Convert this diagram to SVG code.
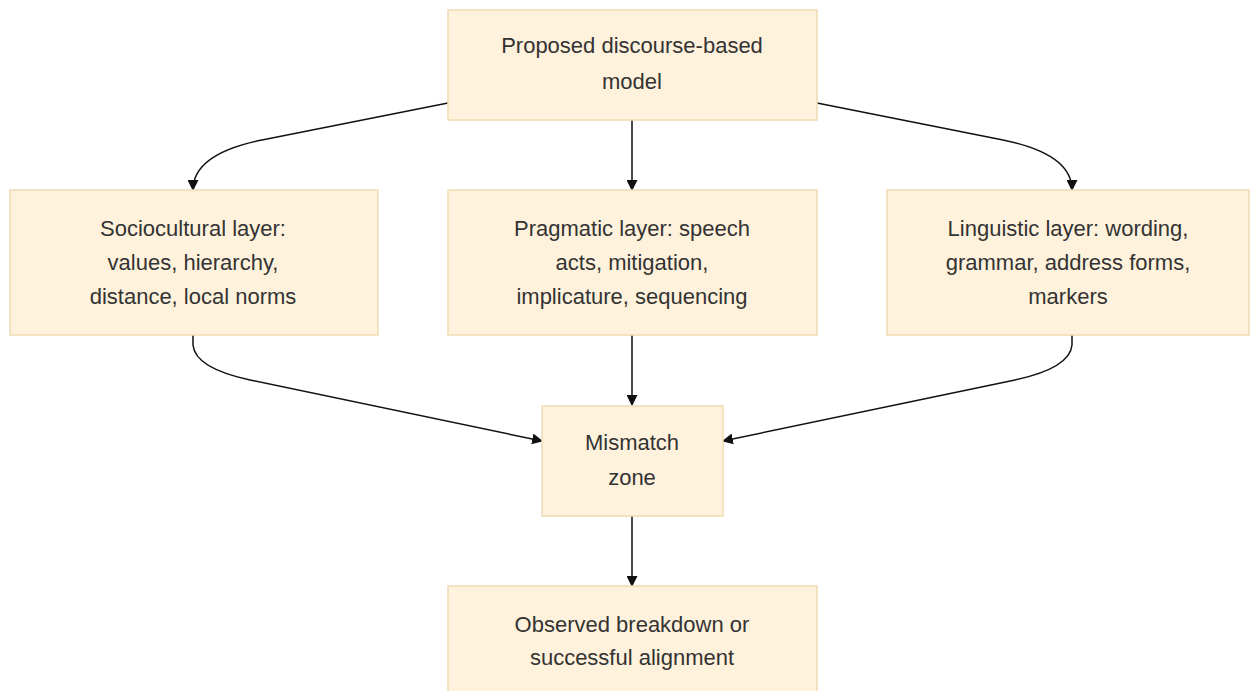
<svg xmlns="http://www.w3.org/2000/svg" width="1251" height="691" viewBox="0 0 1251 691">
<style>
.node rect{fill:#fff2dc;stroke:#f0dcb4;stroke-width:1.5}
.node text{font-family:"Liberation Sans",Arial,sans-serif;font-size:22px;fill:#333;text-anchor:middle}
.edge{fill:none;stroke:#111;stroke-width:1.5;marker-end:url(#arr)}
</style>
<defs>
<marker id="arr" viewBox="0 0 10 10" refX="9" refY="5" markerWidth="11" markerHeight="11" markerUnits="userSpaceOnUse" orient="auto">
<path d="M0,0 L10,5 L0,10 z" fill="#111"/>
</marker>
</defs>
<rect width="1251" height="691" fill="#fff"/>
<g id="connectors">
<path class="edge" d="M448,103 L262,140 Q193,154 193,190"/>
<path class="edge" d="M632,120 L632,190"/>
<path class="edge" d="M817,103 L1003,140 Q1072,154 1072,190"/>
<path class="edge" d="M193,335 L193,345 Q195,368 250,380 L542,441"/>
<path class="edge" d="M632,335 L632,405"/>
<path class="edge" d="M1072,335 L1072,345 Q1070,368 1015,380 L723,441"/>
<path class="edge" d="M632,516 L632,586"/>
</g>
<g id="n1" class="node"><rect x="448" y="10" width="369" height="110"/>
<text x="632" y="53">Proposed discourse-based</text><text x="632" y="89">model</text></g>
<g id="n2" class="node"><rect x="10" y="190" width="368" height="145"/>
<text x="193" y="236">Sociocultural layer:</text><text x="193" y="270">values, hierarchy,</text><text x="193" y="304">distance, local norms</text></g>
<g id="n3" class="node"><rect x="448" y="190" width="369" height="145"/>
<text x="632" y="236">Pragmatic layer: speech</text><text x="632" y="270">acts, mitigation,</text><text x="632" y="304">implicature, sequencing</text></g>
<g id="n4" class="node"><rect x="887" y="190" width="362" height="145"/>
<text x="1068" y="236">Linguistic layer: wording,</text><text x="1068" y="270">grammar, address forms,</text><text x="1068" y="304">markers</text></g>
<g id="n5" class="node"><rect x="542" y="406" width="181" height="110"/>
<text x="632" y="450">Mismatch</text><text x="632" y="485">zone</text></g>
<g id="n6" class="node"><rect x="448" y="586" width="369" height="110"/>
<text x="632" y="632">Observed breakdown or</text><text x="632" y="665">successful alignment</text></g>
</svg>
